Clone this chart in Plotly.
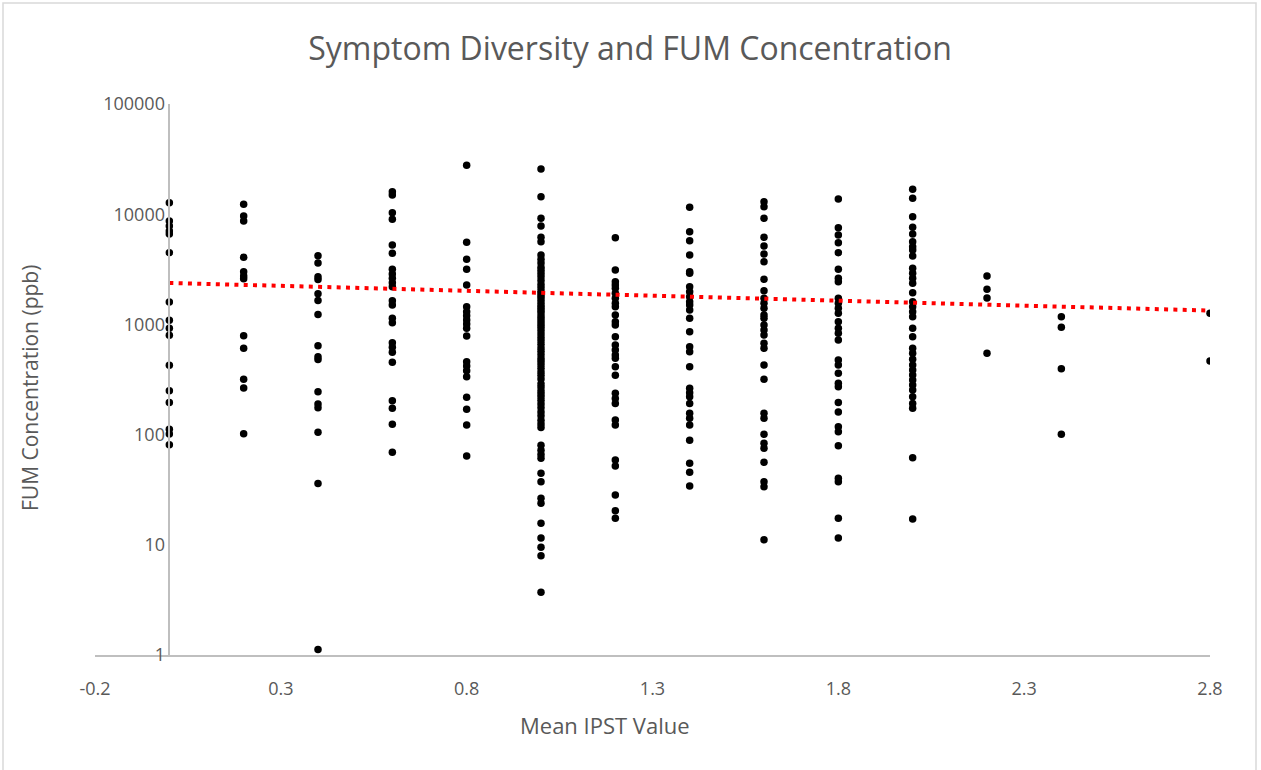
import plotly.graph_objects as go

# ---- data ----
x_levels = [0.0, 0.2, 0.4, 0.6, 0.8, 1.0, 1.2, 1.4, 1.6, 1.8, 2.0, 2.2, 2.4, 2.8]

fum_00 = [12700, 8670, 7820, 7040, 6610, 4480, 1600, 1090, 922, 797, 426, 250, 196, 112, 101, 81]
fum_02 = [12300, 9640, 8670, 4060, 3010, 2750, 2600, 789, 607, 318, 265, 102]
fum_04 = [4200, 3600, 2700, 2550, 1900, 1650, 1230, 640, 510, 480, 245, 190, 175, 105, 36, 1.12]
fum_06 = [16000, 14900, 10300, 8990, 5260, 4420, 3160, 2870, 2620, 2390, 2200, 1640, 1500,
          1135, 1035, 682, 620, 558, 453, 203, 173, 124, 69]
fum_08 = [27800, 5560, 3900, 3160, 2280, 1449, 1304, 1199, 1096, 1008, 922, 785, 459, 420,
          380, 335, 218, 170, 122, 64]
fum_10 = [25700, 14400, 9180, 7820, 6170, 5620, 4260, 3900, 3600, 3300, 3100, 2900, 2700,
          2500, 2300, 2150, 2000, 1900, 1800, 1700, 1600, 1500, 1420, 1350, 1280, 1200, 1130,
          1060, 1000, 940, 880, 820, 760, 710, 660, 610, 570, 530, 490, 460, 430, 400, 370,
          345, 320, 290, 270, 250, 235, 220, 205, 190, 175, 160, 148, 135, 125, 116, 80, 72,
          66, 61, 44.5, 37.4, 26.4, 23.8, 15.7, 11.5, 9.5, 7.95, 3.71]
fum_12 = [6120, 3120, 2440, 2280, 2130, 1915, 1725, 1553, 1449, 1217, 1059, 988, 773, 650,
          586, 527, 492, 413, 345, 237, 213, 192, 136, 122, 58.9, 51.9, 28.3, 20.4, 17.4]
fum_14 = [11550, 6930, 5750, 4260, 3010, 2910, 2200, 1980, 1783, 1607, 1500, 1351, 1135, 859,
          628, 565, 413, 263, 240, 221, 192, 156, 141, 122, 89, 55, 45.6, 34.2]
fum_16 = [12980, 11700, 9180, 6170, 5140, 4350, 3710, 2565, 2023, 1726, 1553, 1399, 1217, 1135,
          988, 890, 801, 674, 607, 428, 318, 156, 141, 100.7, 83.4, 75.2, 56.1, 37.4, 33.7, 11.1]
fum_18 = [13740, 7540, 6470, 5510, 4475, 3163, 2620, 2440, 1726, 1553, 1399, 1260, 1059, 923,
          830, 722, 475, 428, 360, 292, 272, 196, 160, 118, 106, 79.3, 40.1, 37.4, 17.4, 11.5]
fum_20 = [16830, 13940, 9490, 7610, 6610, 5630, 5070, 4730, 4180, 3230, 2910, 2620, 2360, 1940,
          1607, 1449, 1304, 1175, 923, 773, 607, 547, 482, 428, 386, 347, 313, 282, 254, 221,
          192, 173, 61.7, 17.1]
fum_22 = [2750, 2080, 1738, 547]
fum_24 = [1175, 942, 396, 100.7]
fum_28 = [1260, 466]

fum_groups = [fum_00, fum_02, fum_04, fum_06, fum_08, fum_10, fum_12, fum_14,
              fum_16, fum_18, fum_20, fum_22, fum_24, fum_28]

# exponential trendline (straight on log axis), endpoints
trend_x = [0.0, 2.8]
trend_y = [2380, 1335]

y_tickvals = [1, 10, 100, 1000, 10000, 100000]
y_ticktext = ["1", "10", "100", "1000", "10000", "100000"]
x_tickvals = [-0.2, 0.3, 0.8, 1.3, 1.8, 2.3, 2.8]
x_ticktext = ["-0.2", "0.3", "0.8", "1.3", "1.8", "2.3", "2.8"]

xs, ys = [], []
for xv, grp in zip(x_levels, fum_groups):
    xs.extend([xv] * len(grp))
    ys.extend(grp)

FONT = "Open Sans"
GREY = "#595959"

fig = go.Figure()
fig.add_trace(go.Scatter(
    x=xs, y=ys, mode="markers",
    marker=dict(color="black", size=7.5, line=dict(width=0)),
    showlegend=False, hoverinfo="x+y"))
fig.add_trace(go.Scatter(
    x=trend_x, y=trend_y, mode="lines",
    line=dict(color="#ff0000", width=4, dash="4px,5.3px"),
    showlegend=False, hoverinfo="skip"))

L, R, T, B = 95, 1210, 104, 655
W, H = 1261, 770
pw, ph = R - L, B - T
def px(x):
    return (x - L) / pw
def py(y):
    return (B - y) / ph

fig.update_layout(
    width=W, height=H,
    margin=dict(l=L, r=W - R, t=T, b=H - B, pad=0),
    paper_bgcolor="white", plot_bgcolor="white",
    font=dict(family=FONT, color=GREY, size=18),
    title=dict(text="Symptom Diversity and FUM Concentration",
               x=630 / W, xanchor="center", y=1 - 49 / H, yanchor="middle",
               font=dict(family=FONT, size=32, color=GREY)),
    xaxis=dict(range=[-0.2, 2.8], tickvals=x_tickvals, ticktext=x_ticktext,
               showgrid=False, zeroline=False, showline=True, linecolor="#bfbfbf",
               linewidth=1.5, ticks="", ticklabelstandoff=17,
               tickfont=dict(family=FONT, size=18, color=GREY)),
    yaxis=dict(type="log", range=[0, 5], tickvals=y_tickvals, ticktext=y_ticktext,
               showgrid=False, zeroline=False, showline=True, linecolor="#bfbfbf",
               linewidth=1.5, ticks="", anchor="free", position=0.2 / 3,
               tickfont=dict(family=FONT, size=18, color=GREY)),
    annotations=[
        dict(text="Mean IPST Value", xref="paper", yref="paper",
             x=px(605), y=py(725), xanchor="center", yanchor="middle",
             showarrow=False, font=dict(family=FONT, size=22, color=GREY)),
        dict(text="FUM Concentration (ppb)", xref="paper", yref="paper",
             x=px(30), y=py(388), xanchor="center", yanchor="middle", textangle=-90,
             showarrow=False, font=dict(family=FONT, size=21, color=GREY)),
    ],
    shapes=[dict(type="rect", xref="paper", yref="paper",
                 x0=px(3), x1=px(1256), y0=py(3), y1=py(790),
                 line=dict(color="#d9d9d9", width=1.5), layer="below")],
)

fig.write_html("out.html")
